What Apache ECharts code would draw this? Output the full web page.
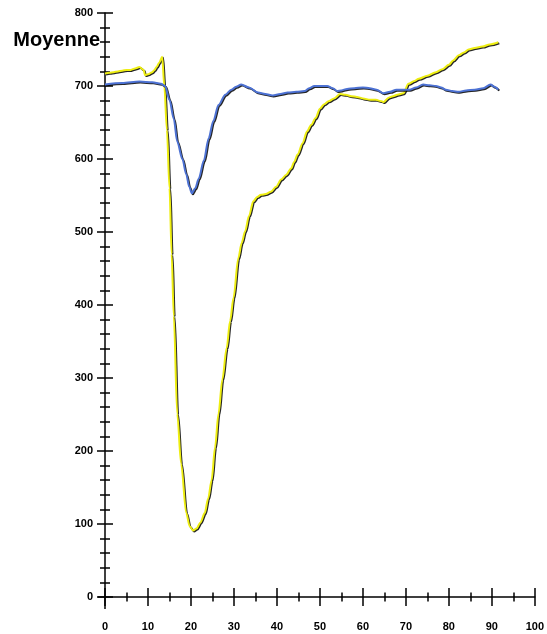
<!DOCTYPE html>
<html>
<head>
<meta charset="utf-8">
<script src="https://cdn.jsdelivr.net/npm/echarts@6/dist/echarts.min.js"></script>
<style>
  html, body { margin: 0; padding: 0; background: #fff; }
  #chart { width: 547px; height: 634px; }
</style>
</head>
<body>
<div id="chart"></div>
<script>
// ticks
const xTicks = [0, 10, 20, 30, 40, 50, 60, 70, 80, 90, 100];
const yTicks = [0, 100, 200, 300, 400, 500, 600, 700, 800];
const yName = 'Moyenne';

// yellow curve
const yellowX = [0, 1, 2, 3, 4, 5, 6, 7, 8, 9, 9.3, 10, 11, 11.5, 12, 12.6, 13.3, 13.8, 14.4, 15,
  15.5, 16, 16.8, 17.7, 18.9, 19.7, 20.5, 21.3, 22.2, 23.2, 24, 24.8, 25.6, 26.4, 27.3, 28.3, 29.1,
  29.9, 31, 31.8, 32.6, 33.5, 34.5, 35.4, 36.3, 37.4, 38.6, 39.8, 41, 42.1, 43.3, 44, 44.8, 46, 47,
  48, 49, 50, 51, 52, 53.3, 54.7, 56, 57.3, 58.6, 60, 61.7, 63, 64.4, 64.8, 66, 67, 68, 69.4, 70.6,
  72, 73, 75, 77, 78.5, 80, 81, 82.3, 83.5, 84.6, 86, 87.8, 89.5, 91.5];
const yellowY = [717, 718, 719, 720, 721, 722, 722, 724, 726, 722, 715, 716, 719, 722, 726, 732, 740, 700, 640, 560,
  470, 385, 251, 183, 115, 97, 91, 94, 102, 115, 135, 160, 205, 251, 298, 341, 378,
  410, 464, 485, 501, 522, 542, 548, 551, 552, 555, 562, 572, 578, 587, 596, 606, 622, 638,
  647, 656, 669, 675, 679, 683, 689, 688, 686, 685, 683, 681, 681, 679, 678, 684, 686, 688, 690, 703,
  707, 710, 714, 719, 723, 729, 735, 742, 746, 750, 752, 754, 757, 760];

// blue curve
const blueX = [0, 4, 8, 11, 13, 14, 15, 16, 16.8, 18, 18.9, 19.6, 20.2, 21, 21.8, 23, 24.1, 25.2, 26.4,
  28, 29.4, 30.5, 31.7, 33.5, 35.6, 37.3, 39, 40.8, 42.5, 44.5, 46.4, 47.5, 48.7, 50.2, 51.7, 53, 54,
  55, 56.3, 58, 60, 61.6, 63.2, 64.8, 66.3, 67.8, 69.3, 70.8, 72.4, 74, 75.5, 77, 78.2, 79.3, 80.8,
  82.3, 84, 86, 88, 89.7, 90.6, 91.5];
const blueY = [702, 704, 706, 705, 703, 700, 681, 655, 624, 600, 579, 562, 553, 560, 573, 598, 628, 652, 674,
  688, 695, 699, 702, 698, 691, 689, 687, 689, 691, 692, 693, 697, 700, 700, 700, 697, 693,
  694, 696, 697, 698, 697, 695, 690, 692, 695, 695, 695, 698, 702, 701, 700, 698, 695, 693,
  692, 694, 695, 697, 702, 699, 695];

const labelFont = { color: '#000', fontSize: 11, fontWeight: 'bold', fontFamily: 'Liberation Sans' };

function pairs(xs, ys) {
  return xs.map((x, i) => [x, ys[i]]);
}

function lineSeries(xs, ys, color) {
  return {
    type: 'line',
    data: pairs(xs, ys),
    showSymbol: false,
    smooth: 0.3,
    smoothMonotone: 'x',
    lineStyle: {
      color: color,
      width: 2,
      shadowColor: 'rgba(0,0,0,0.85)',
      shadowOffsetX: 1,
      shadowOffsetY: 1,
      shadowBlur: 0
    },
    z: 3
  };
}

function xAxisOf(inside) {
  return {
    type: 'value',
    position: 'bottom',
    min: xTicks[0],
    max: xTicks[xTicks.length - 1],
    interval: xTicks[1] - xTicks[0],
    axisLine: { show: !inside, lineStyle: { color: '#000', width: 1.5 } },
    axisTick: { show: true, inside: inside, length: 9, lineStyle: { color: '#000', width: 1.5 } },
    minorTick: { show: true, splitNumber: 2, length: 4.5, lineStyle: { color: '#000', width: 1.5 } },
    axisLabel: Object.assign({ show: !inside, margin: 24 }, labelFont),
    splitLine: { show: false }
  };
}

function yAxisOf(inside) {
  return {
    type: 'value',
    position: 'left',
    min: yTicks[0],
    max: yTicks[yTicks.length - 1],
    interval: yTicks[1] - yTicks[0],
    axisLine: { show: !inside, lineStyle: { color: '#000', width: 1.5 } },
    axisTick: { show: true, inside: inside, length: 8, lineStyle: { color: '#000', width: 1.5 } },
    minorTick: { show: true, splitNumber: 5, length: 5, lineStyle: { color: '#000', width: 1.5 } },
    axisLabel: Object.assign({ show: !inside, margin: 12 }, labelFont),
    splitLine: { show: false }
  };
}

const chart = echarts.init(document.getElementById('chart'));

const option = {
  animation: false,
  backgroundColor: '#fff',
  grid: { left: 105, right: 7, top: 13, bottom: 37, containLabel: false },
  xAxis: [xAxisOf(false), xAxisOf(true)],
  yAxis: [yAxisOf(false), yAxisOf(true)],
  series: [
    lineSeries(yellowX, yellowY, '#eeee12'),
    lineSeries(blueX, blueY, '#4d72d4')
  ]
};
chart.setOption(option);

// axis lines poke a little past the origin, plus the y axis title
const o = chart.convertToPixel({ gridIndex: 0 }, [0, 0]);
chart.setOption({
  graphic: [
    { type: 'line', shape: { x1: o[0], y1: o[1], x2: o[0], y2: o[1] + 12 },
      style: { stroke: '#000', lineWidth: 1.5 } },
    { type: 'line', shape: { x1: o[0] - 7, y1: o[1], x2: o[0], y2: o[1] },
      style: { stroke: '#000', lineWidth: 1.5 } },
    { type: 'text', x: 100, y: 40,
      style: { text: yName, align: 'right', verticalAlign: 'middle',
        font: 'bold 20px "Liberation Sans"', fill: '#000' } }
  ]
});
</script>
</body>
</html>
